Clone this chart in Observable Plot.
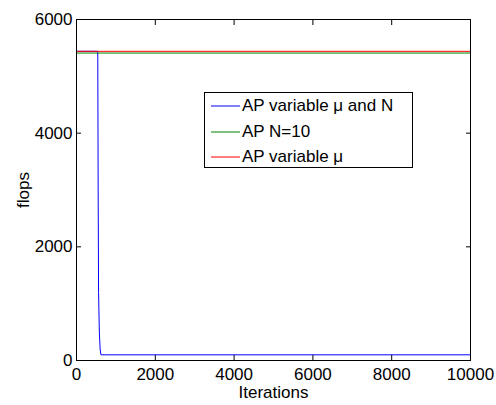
<!DOCTYPE html>
<html><head><meta charset="utf-8">
<script src="https://cdn.jsdelivr.net/npm/d3@7"></script>
<script src="https://cdn.jsdelivr.net/npm/@observablehq/plot@0.6"></script>
<style>
body{margin:0;background:#fff;font-family:"Liberation Sans",Arial,sans-serif;}
#wrap{position:relative;width:496px;height:405px;}
#legend{position:absolute;left:204px;top:92px;width:207px;height:74px;border:1px solid #000;background:#fff;font-size:17px;white-space:nowrap;}
.row{position:absolute;left:0;height:20px;display:flex;align-items:center;}
.row svg{margin-left:6px;margin-right:2px;}
</style></head>
<body><div id="wrap"></div>
<script>
const labels = ["AP variable \u03bc and N", "AP N=10", "AP variable \u03bc"];
const colors = ["#0000ff", "#008000", "#ff0000"];
const blueIter = [0, 540, 550, 560, 580, 600, 620, 10000];
const blueFlops = [5440, 5440, 3000, 1200, 500, 200, 100, 100];
const greenIter = [0, 10000];
const greenFlops = [5410, 5410];
const redIter = [0, 10000];
const redFlops = [5440, 5440];
const xTicks = [0, 2000, 4000, 6000, 8000, 10000];
const yTicks = [0, 2000, 4000, 6000];

const mk = (xs, ys, s) => xs.map((x, i) => ({x, y: ys[i], s}));
const data = [
  ...mk(blueIter, blueFlops, labels[0]),
  ...mk(greenIter, greenFlops, labels[1]),
  ...mk(redIter, redFlops, labels[2])
];

const chart = Plot.plot({
  width: 496, height: 405,
  marginLeft: 76, marginRight: 26, marginTop: 19, marginBottom: 45,
  style: {fontFamily: "Liberation Sans, Arial, sans-serif", fontSize: "17px", color: "#000", background: "#fff"},
  x: {domain: [0, 10000]},
  y: {domain: [0, 6000]},
  color: {domain: labels, range: colors},
  marks: [
    Plot.line(data, {x: "x", y: "y", z: "s", stroke: "s", strokeWidth: 1}),
    Plot.frame({stroke: "#000", strokeWidth: 1}),
    Plot.axisX({ticks: xTicks, tickSize: -5, tickPadding: 12, tickFormat: d => String(d), label: "Iterations", labelAnchor: "center", labelArrow: "none", labelOffset: 37, fontSize: 17}),
    Plot.axisX({anchor: "top", ticks: xTicks, tickSize: -5, tickFormat: () => "", label: null}),
    Plot.axisY({ticks: yTicks, tickSize: -5, tickPadding: 9, tickFormat: d => String(d), label: "flops", labelAnchor: "center", labelArrow: "none", labelOffset: 60, fontSize: 17}),
    Plot.axisY({anchor: "right", ticks: yTicks, tickSize: -5, tickFormat: () => "", label: null})
  ]
});
const wrap = document.getElementById("wrap");
wrap.appendChild(chart);
const lg = document.createElement("div");
lg.id = "legend";
labels.forEach((t, i) => {
  const r = document.createElement("div");
  r.className = "row";
  r.style.top = (3 + i * 25.5) + "px";
  r.innerHTML = `<svg width="29" height="4"><line x1="0" x2="29" y1="2" y2="2" stroke="${colors[i]}" stroke-width="1"/></svg><span>${t}</span>`;
  lg.appendChild(r);
});
wrap.appendChild(lg);
</script></body></html>
